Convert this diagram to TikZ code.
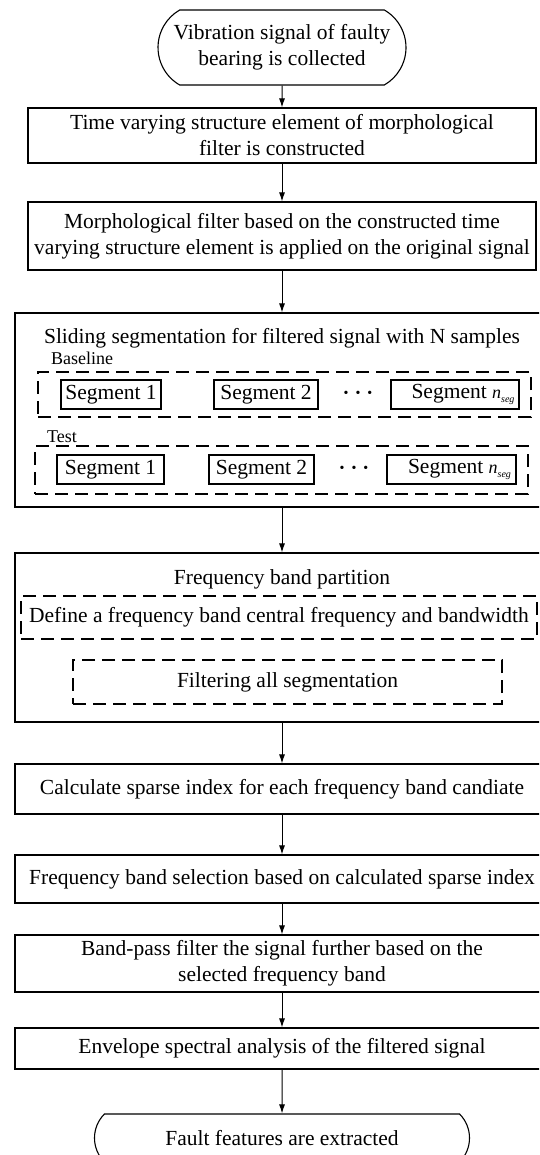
\documentclass[tikz,border=0pt]{standalone}
\usepackage{fontspec}
\setmainfont{Liberation Serif}
\usetikzlibrary{arrows.meta,shapes.misc}

% italic segment count
\newcommand{\nseg}{{\fontsize{18}{18}\selectfont\itshape n\raisebox{-4pt}{\fontsize{10}{10}\selectfont seg}}}
% three dots between segments
\newcommand{\segdots}{{\fontsize{14}{14}\selectfont\textbullet\hspace{7pt}\textbullet\hspace{7pt}\textbullet}}

\begin{document}
\begin{tikzpicture}[x=1pt,y=-1pt,>={Latex[length=9pt,width=6pt]},
    every edge/.append style={line width=1pt},
    segbox/.style={draw,line width=1.1pt,minimum height=29pt},
    dashbox/.style={draw,dash pattern=on 13pt off 7pt,line width=1.2pt}]
    \useasboundingbox (0,0) rectangle (539,1155);
    \clip (0,0) rectangle (539,1155);
    \begin{scope}[every node/.style={draw,line width=1.1pt,inner sep=0pt,align=center,font=\fontsize{21.5}{26}\selectfont}]
        \node[rounded rectangle,rounded rectangle arc length=120,minimum width=248pt,minimum height=75pt] (collect) at (282,47.5) {Vibration signal of faulty\\bearing is collected};
        \node[minimum width=508pt,minimum height=55pt] (element) at (282,135.5) {Time varying structure element of morphological\\filter is constructed};
        \node[minimum width=508pt,minimum height=68pt] (morph) at (282,236) {Morphological filter based on the constructed time\\varying structure element is applied on the original signal};

        \node[minimum width=534pt,minimum height=194pt] (slide) at (282,410) {};
        \node[minimum width=534pt,minimum height=169pt] (band) at (282,637.5) {};

        \node[minimum width=534pt,minimum height=50pt] (sparse) at (282,789) {Calculate sparse index for each frequency band candiate};
        \node[minimum width=534pt,minimum height=48pt] (select) at (282,879) {Frequency band selection based on calculated sparse index};
        \node[minimum width=534pt,minimum height=57pt] (bandpass) at (282,963.5) {Band-pass filter the signal further based on the\\selected frequency band};
        \node[minimum width=534pt,minimum height=41pt] (envelope) at (282,1048.5) {Envelope spectral analysis of the filtered signal};
        \node[rounded rectangle,rounded rectangle arc length=90,minimum width=375pt,minimum height=48pt] (fault) at (282,1138) {Fault features are extracted};
    \end{scope}

    % inside the segmentation block
    \begin{scope}[every node/.style={inner sep=0pt,font=\fontsize{21.5}{26}\selectfont}]
        \node[anchor=base] (slidetitle) at (282,343) {Sliding segmentation for filtered signal with N samples};
        \node[anchor=base west,font=\fontsize{18}{18}\selectfont] (baseline) at (51,364) {Baseline};
        \node[dashbox,minimum width=493pt,minimum height=45pt] (baserow) at (284.5,394.5) {};
        \node[segbox,minimum width=100pt] (bseg1) at (111,394.5) {Segment 1};
        \node[segbox,minimum width=104pt] (bseg2) at (266,394.5) {Segment 2};
        \node (bdots) at (358,394.5) {\segdots};
        \node[segbox,minimum width=128pt] (bsegn) at (455,394.5) {\hspace{16pt}Segment \nseg};

        \node[anchor=base west,font=\fontsize{18}{18}\selectfont] (test) at (47,442) {Test};
        \node[dashbox,minimum width=493pt,minimum height=48pt] (testrow) at (281.5,470) {};
        \node[segbox,minimum width=107pt] (tseg1) at (110.5,469.5) {Segment 1};
        \node[segbox,minimum width=105pt] (tseg2) at (261.5,469.5) {Segment 2};
        \node (tdots) at (354,469.5) {\segdots};
        \node[segbox,minimum width=129pt] (tsegn) at (451.5,469.5) {\hspace{16pt}Segment \nseg};
    \end{scope}

    % inside the frequency band block
    \begin{scope}[every node/.style={inner sep=0pt,font=\fontsize{21.5}{26}\selectfont}]
        \node[anchor=base] (bandtitle) at (282,584) {Frequency band partition};
        \node[dashbox,minimum width=516pt,minimum height=43pt] (define) at (279,617.5) {Define a frequency band central frequency and bandwidth};
        \node[dashbox,minimum width=429pt,minimum height=44pt] (filtering) at (287.5,682) {Filtering all segmentation};
    \end{scope}

    \path [->] (collect) edge (element);
    \path [->] (element) edge (morph);
    \path [->] (morph) edge (slide);
    \path [->] (slide) edge (band);
    \path [->] (band) edge (sparse);
    \path [->] (sparse) edge (select);
    \path [->] (select) edge (bandpass);
    \path [->] (bandpass) edge (envelope);
    \path [->] (envelope) edge (fault);
\end{tikzpicture}
\end{document}
